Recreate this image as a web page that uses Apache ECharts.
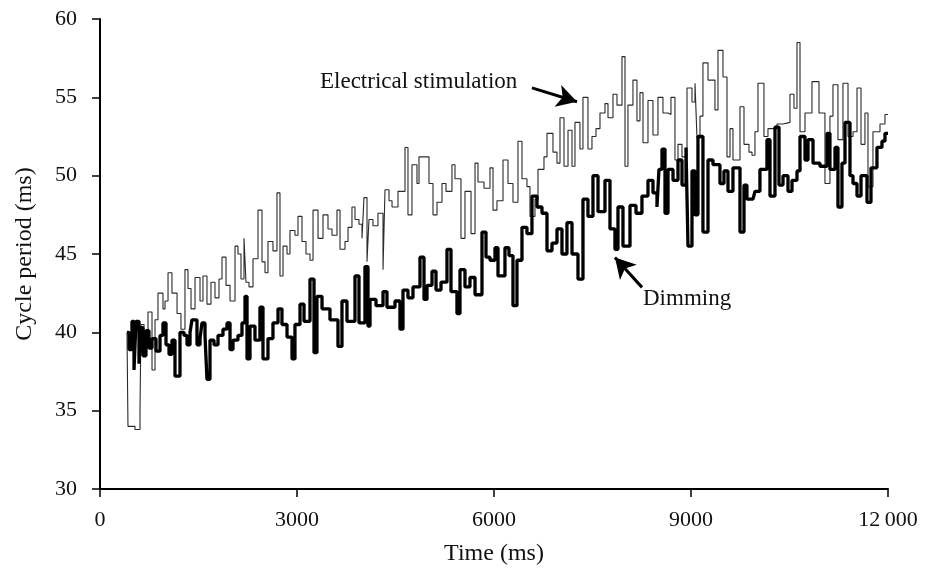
<!DOCTYPE html>
<html>
<head>
<meta charset="utf-8">
<script src="https://cdn.jsdelivr.net/npm/echarts@6/dist/echarts.min.js"></script>
<style>html,body{margin:0;padding:0;background:#fff}#c{width:933px;height:571px}</style>
</head>
<body>
<div id="c"></div>
<script>
var xTickLabels = ['0', '3000', '6000', '9000', '12\u2009000'];
var yTicks = [30, 35, 40, 45, 50, 55, 60];

var stimTime = [411,426,533,609,624,670,731,792,838,883,959,990,1036,1096,1173,1233,1294,1340,1386,1447,1523,1568,1629,1690,1751,1812,1858,1919,1980,2056,2101,2147,2193,2223,2269,2330,2406,2467,2513,2558,2634,2695,2741,2787,2848,2893,2969,3015,3076,3137,3198,3244,3320,3396,3472,3533,3609,3655,3731,3777,3837,3883,3944,3990,4020,4066,4096,4157,4233,4310,4340,4401,4447,4538,4645,4690,4751,4827,4858,5010,5071,5132,5208,5269,5360,5406,5497,5558,5650,5711,5756,5848,5939,5985,6045,6137,6213,6289,6365,6426,6502,6548,6624,6670,6761,6807,6898,6959,7005,7066,7127,7188,7233,7309,7355,7431,7492,7553,7614,7690,7736,7812,7873,7949,7995,8040,8116,8177,8223,8269,8345,8421,8497,8573,8650,8695,8756,8802,8863,8939,9015,9061,9091,9137,9182,9259,9365,9411,9487,9548,9594,9639,9746,9807,9883,9929,9974,10020,10111,10172,10309,10401,10507,10568,10614,10660,10736,10842,10949,11040,11116,11162,11238,11314,11391,11467,11528,11589,11649,11695,11771,11878,11954,12000];
var stimValue = [40.0,34.0,33.8,35.0,40.5,39.0,41.3,37.6,40.8,42.5,41.5,42.0,43.8,42.5,41.2,40.2,44.0,42.8,41.5,43.5,42.0,43.6,41.8,43.2,42.2,43.4,44.8,43.0,42.0,45.5,45.0,43.4,46.0,43.2,42.9,44.7,47.8,44.5,43.8,45.8,45.2,48.9,43.6,45.5,45.0,46.5,46.2,47.4,45.8,45.0,44.6,47.8,46.0,47.5,46.6,46.2,47.8,45.3,45.8,46.7,48.0,47.2,46.9,46.0,48.6,44.5,47.2,46.8,47.6,44.0,49.1,48.4,48.0,49.0,51.8,47.5,50.7,49.5,51.2,49.5,47.5,48.3,49.5,49.0,50.7,49.8,46.0,49.0,46.3,50.8,49.6,49.2,50.5,47.8,48.4,51.0,49.5,48.3,52.2,49.8,49.3,47.4,48.5,50.4,51.2,52.7,51.5,50.8,53.7,50.6,52.9,50.6,53.4,51.7,55.0,51.7,52.5,53.0,54.0,54.6,53.7,55.2,54.5,57.6,50.6,54.5,56.1,53.5,55.3,52.1,54.8,52.6,55.0,54.0,53.9,55.0,51.0,52.0,51.2,55.6,54.7,55.9,52.4,53.8,57.2,56.1,54.2,58.0,56.3,51.2,53.0,51.0,54.4,52.0,51.5,51.3,52.8,55.9,52.5,53.0,53.3,53.4,55.2,54.3,58.5,52.8,54.0,56.0,54.0,49.5,53.8,55.8,52.3,55.9,52.5,52.8,55.6,52.0,54.0,49.3,52.8,53.3,53.9,53.9];

var dimTime = [411,442,487,518,548,594,624,655,700,746,792,853,914,959,1005,1051,1096,1142,1218,1279,1325,1371,1401,1477,1523,1553,1599,1629,1675,1736,1797,1873,1934,1980,2025,2101,2162,2208,2239,2284,2360,2436,2482,2558,2634,2711,2771,2848,2924,2969,3046,3107,3198,3259,3304,3381,3502,3624,3685,3761,3883,3944,4035,4081,4112,4203,4310,4370,4492,4568,4614,4690,4766,4873,4934,4980,5056,5117,5193,5284,5345,5436,5482,5558,5634,5711,5817,5878,5939,6015,6061,6167,6228,6289,6350,6426,6502,6578,6655,6731,6807,6883,6959,7035,7111,7188,7279,7355,7431,7507,7584,7690,7766,7842,7888,7964,8071,8162,8253,8345,8421,8482,8512,8558,8604,8650,8726,8802,8863,8924,8954,9015,9061,9106,9182,9259,9335,9441,9502,9563,9639,9746,9807,9852,9944,9974,10050,10157,10203,10279,10340,10401,10477,10538,10614,10660,10736,10782,10858,10964,11071,11116,11193,11238,11299,11345,11421,11467,11528,11589,11680,11741,11832,11908,11954,12000];
var dimValue = [40.0,38.9,40.7,37.6,40.7,38.0,40.3,38.5,40.1,39.0,39.6,38.8,39.8,40.6,39.2,38.6,39.5,37.2,40.0,39.8,39.2,40.0,40.8,39.2,39.6,40.6,39.8,37.0,39.5,39.2,39.8,40.2,40.6,38.9,39.5,39.8,40.6,42.3,38.3,40.4,39.5,41.6,38.3,39.6,40.6,41.5,40.5,39.7,38.3,40.5,41.8,40.7,43.4,38.7,42.3,41.5,40.8,39.1,42.0,40.7,43.6,40.6,44.2,40.4,42.1,41.7,42.6,41.6,42.0,40.2,42.7,42.2,42.9,44.8,42.1,43.0,43.9,42.7,43.2,45.3,42.6,41.2,44.0,42.9,43.5,42.4,46.4,44.8,44.6,45.4,43.6,45.4,44.9,41.7,44.6,46.7,46.3,48.7,48.0,47.6,45.2,45.7,46.6,45.0,47.0,45.0,43.4,48.5,47.4,50.0,47.7,49.7,46.6,45.3,48.0,45.5,48.1,47.6,48.7,49.7,48.9,48.0,50.4,51.7,47.6,50.4,49.7,51.0,49.4,51.8,45.5,50.3,47.5,52.5,46.4,51.0,50.7,49.5,50.3,49.0,50.5,46.4,49.4,48.5,48.5,49.0,50.4,52.3,48.7,53.1,49.4,50.0,49.0,49.7,50.3,52.5,51.0,52.3,50.8,50.6,52.7,50.4,51.8,48.0,50.8,53.4,50.0,49.5,48.7,50.0,48.3,50.5,51.8,52.2,52.7,52.7];

var stimLabel = 'Electrical stimulation';
var dimLabel = 'Dimming';
var stimArrow = [[6578, 55.6], [7264, 54.72]];
var dimArrow = [[8254, 42.87], [7842, 44.78]];

function zip(t, v) {
  var n = Math.min(t.length, v.length), out = [];
  for (var i = 0; i < n; i++) out.push([t[i], v[i]]);
  return out;
}

var FONT = '"Liberation Serif", "DejaVu Serif", serif';
var chart = echarts.init(document.getElementById('c'), null, {renderer: 'canvas'});

function arrowLine(a) {
  return [{coord: a[0], symbol: 'none'}, {coord: a[1], symbol: 'arrow'}];
}

var option = {
  animation: false,
  backgroundColor: '#ffffff',
  grid: {left: 100, right: 45, top: 19, bottom: 81, containLabel: false},
  xAxis: {
    type: 'value', min: 0, max: 12000, interval: 3000,
    name: 'Time (ms)', nameLocation: 'middle', nameGap: 53,
    nameTextStyle: {fontFamily: FONT, fontSize: 24, color: '#111'},
    axisLine: {show: true, onZero: false, lineStyle: {color: '#000', width: 2}},
    axisTick: {show: true, inside: false, length: 8, lineStyle: {color: '#000', width: 1.5}},
    axisLabel: {
      fontFamily: FONT, fontSize: 22, color: '#111', margin: 20,
      formatter: function (v) { return xTickLabels[Math.round(v / 3000)]; }
    },
    splitLine: {show: false}
  },
  yAxis: {
    type: 'value', min: 30, max: 60, interval: 5,
    name: 'Cycle period (ms)', nameLocation: 'middle', nameGap: 63, nameRotate: 90,
    nameTextStyle: {fontFamily: FONT, fontSize: 24, color: '#111'},
    axisLine: {show: true, onZero: false, lineStyle: {color: '#000', width: 2}},
    axisTick: {show: true, inside: false, length: 8, lineStyle: {color: '#000', width: 1.5}},
    axisLabel: {
      fontFamily: FONT, fontSize: 22, color: '#111', margin: 23,
      formatter: function (v) { return yTicks.indexOf(v) >= 0 ? String(v) : ''; }
    },
    splitLine: {show: false}
  },
  series: [
    {
      name: stimLabel, type: 'line', step: 'end', showSymbol: false, symbol: 'none',
      data: zip(stimTime, stimValue),
      lineStyle: {color: '#2a2a2a', width: 1.1},
      z: 2,
      markLine: {
        silent: true, symbolSize: [17, 20],
        lineStyle: {color: '#000', width: 3, type: 'solid'},
        label: {show: false},
        data: [arrowLine(stimArrow)]
      }
    },
    {
      name: dimLabel, type: 'line', step: 'end', showSymbol: false, symbol: 'none',
      data: zip(dimTime, dimValue),
      lineStyle: {color: '#000', width: 3.3},
      z: 3,
      markLine: {
        silent: true, symbolSize: [17, 20],
        lineStyle: {color: '#000', width: 3, type: 'solid'},
        label: {show: false},
        data: [arrowLine(dimArrow)]
      }
    }
  ],
  graphic: [
    {type: 'text', left: 320, top: 70, style: {text: stimLabel, font: '23px ' + FONT, fill: '#111'}},
    {type: 'text', left: 643, top: 287, style: {text: dimLabel, font: '23px ' + FONT, fill: '#111'}}
  ]
};
chart.setOption(option);
</script>
</body>
</html>
